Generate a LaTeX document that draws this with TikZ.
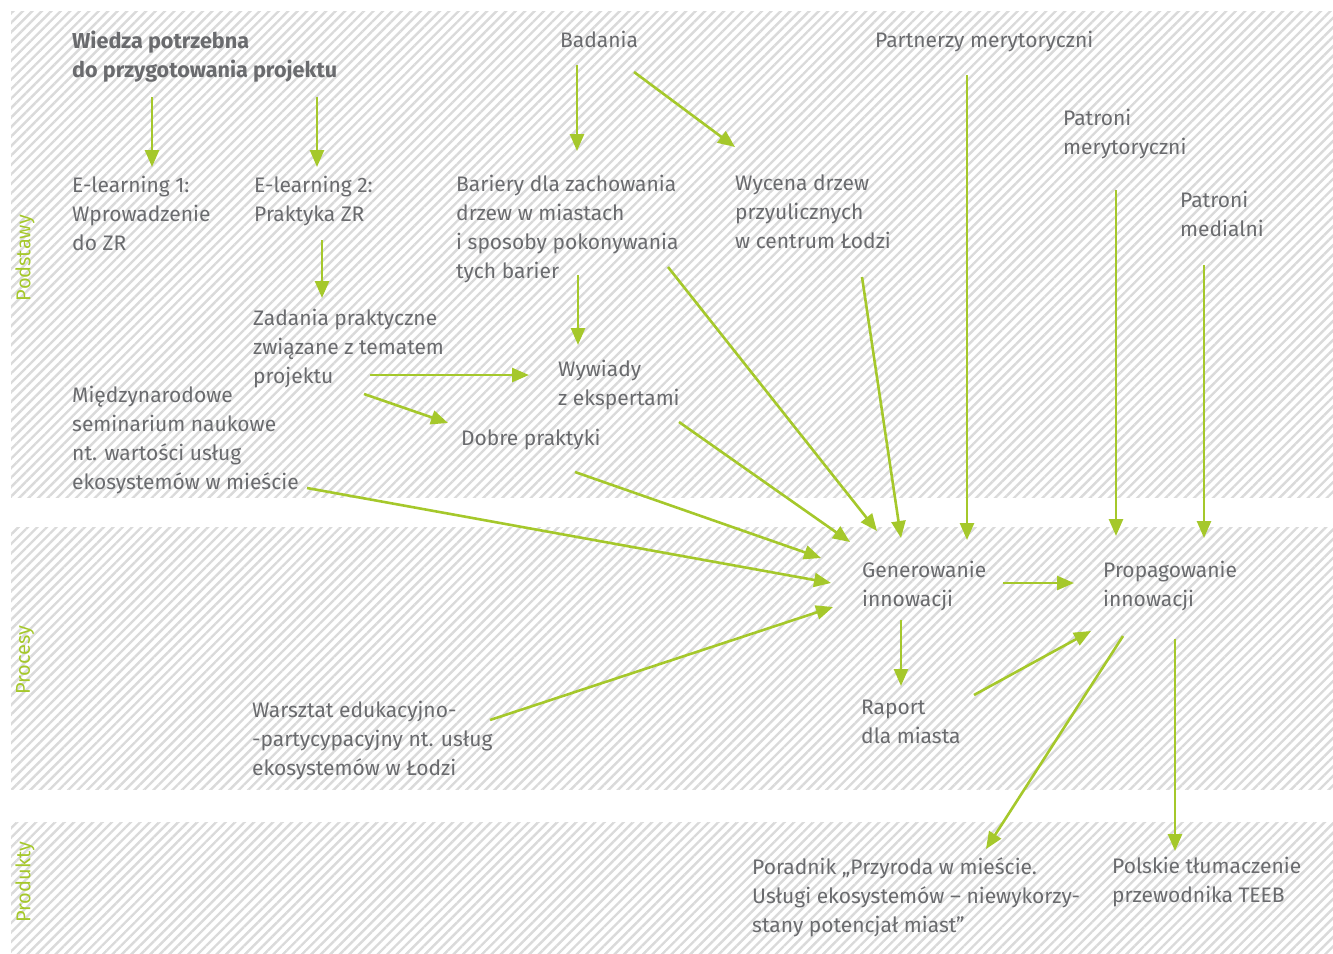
\documentclass[tikz,border=0pt]{standalone}
\usepackage{fontspec}
\setmainfont{Fira Sans}
\usetikzlibrary{arrows.meta,patterns.meta}
\definecolor{txtgray}{HTML}{6A6B6E}
\definecolor{arrgreen}{HTML}{A5C82B}
\definecolor{hatchgray}{HTML}{DADADA}
\tikzset{
  txt/.style={anchor=north west, inner sep=0pt, align=left, text=txtgray, font=\fontsize{21}{29}\selectfont},
  bandlbl/.style={rotate=90, inner sep=0pt, text=arrgreen, font=\fontsize{20}{24}\selectfont},
  band/.style={pattern={Lines[angle=45,distance=6.7pt,line width=2.4pt]}, pattern color=hatchgray},
  conn/.style={draw=arrgreen, line width=2.6pt, -{Triangle[length=17pt,width=14pt]}}
}
\begin{document}
\begin{tikzpicture}[x=1pt,y=-1pt]
\useasboundingbox (0,0) rectangle (1333,953);
% bands
\path[band] (11,11) rectangle (1333,497);
\path[band] (11,527) rectangle (1333,789);
\path[band] (11,822) rectangle (1333,953);
\node[bandlbl] (lbl1) at (25,258) {Podstawy};
\node[bandlbl] (lbl2) at (25,660) {Procesy};
\node[bandlbl] (lbl3) at (25,882) {Produkty};
% texts
\node[txt,font=\fontsize{21.6}{29}\selectfont\bfseries] (wiedza) at (72,31) {Wiedza potrzebna\\do przygotowania projektu};
\node[txt] (badania) at (560,31) {Badania};
\node[txt] (partnerzy) at (875,31) {Partnerzy merytoryczni};
\node[txt] (patmer) at (1063,109) {Patroni\\merytoryczni};
\node[txt] (patmed) at (1180,191) {Patroni\\medialni};
\node[txt] (el1) at (72,176) {E-learning 1:\\Wprowadzenie\\do ZR};
\node[txt] (el2) at (254,176) {E-learning 2:\\Praktyka ZR};
\node[txt] (bariery) at (456,175) {Bariery dla zachowania\\drzew w miastach\\i sposoby pokonywania\\tych barier};
\node[txt] (wycena) at (735,175) {Wycena drzew\\przyulicznych\\w centrum Łodzi};
\node[txt] (zadania) at (253,309) {Zadania praktyczne\\związane z tematem\\projektu};
\node[txt] (seminarium) at (72,386) {Międzynarodowe\\seminarium naukowe\\nt. wartości usług\\ekosystemów w mieście};
\node[txt] (wywiady) at (558,360) {Wywiady\\z ekspertami};
\node[txt] (dobre) at (461,429) {Dobre praktyki};
\node[txt] (gen) at (862,561) {Generowanie\\innowacji};
\node[txt] (prop) at (1103,561) {Propagowanie\\innowacji};
\node[txt] (raport) at (861,700) {Raport\\dla miasta};
\node[txt] (warsztat) at (252,701) {Warsztat edukacyjno-\\-partycypacyjny nt. usług\\ekosystemów w Łodzi};
\node[txt] (poradnik) at (752,857) {Poradnik „Przyroda w mieście.\\Usługi ekosystemów – niewykorzy-\\stany potencjał miast”};
\node[txt] (teeb) at (1112,857) {Polskie tłumaczenie\\przewodnika TEEB};
% connector end points
\coordinate (a1s) at (152,97);   \coordinate (a1e) at (152,167);
\coordinate (a2s) at (317,97);   \coordinate (a2e) at (317,167);
\coordinate (a3s) at (322,240);  \coordinate (a3e) at (322,298);
\coordinate (a4s) at (577,65);   \coordinate (a4e) at (577,151);
\coordinate (a5s) at (634,72);   \coordinate (a5e) at (735,147);
\coordinate (a6s) at (578,275);  \coordinate (a6e) at (578,345);
\coordinate (a7s) at (370,375);  \coordinate (a7e) at (529,375);
\coordinate (a8s) at (364,394);  \coordinate (a8e) at (448,423);
\coordinate (a9s) at (668,267);  \coordinate (a9e) at (877,531);
\coordinate (a10s) at (862,277); \coordinate (a10e) at (901,538);
\coordinate (a11s) at (967,75);  \coordinate (a11e) at (967,540);
\coordinate (a12s) at (1116,190);\coordinate (a12e) at (1116,536);
\coordinate (a13s) at (1204,265);\coordinate (a13e) at (1204,538);
\coordinate (a14s) at (679,422); \coordinate (a14e) at (850,542);
\coordinate (a15s) at (575,472); \coordinate (a15e) at (821,558);
\coordinate (a16s) at (307,488); \coordinate (a16e) at (831,583);
\coordinate (a17s) at (490,720); \coordinate (a17e) at (833,607);
\coordinate (a18s) at (1003,583);\coordinate (a18e) at (1074,583);
\coordinate (a19s) at (901,620); \coordinate (a19e) at (901,686);
\coordinate (a20s) at (974,695); \coordinate (a20e) at (1091,631);
\coordinate (a21s) at (1123,636);\coordinate (a21e) at (986,849);
\coordinate (a22s) at (1175,639);\coordinate (a22e) at (1175,851);
% connectors
\foreach \i in {1,...,22} { \draw[conn] (a\i s) -- (a\i e); }
\end{tikzpicture}
\end{document}
